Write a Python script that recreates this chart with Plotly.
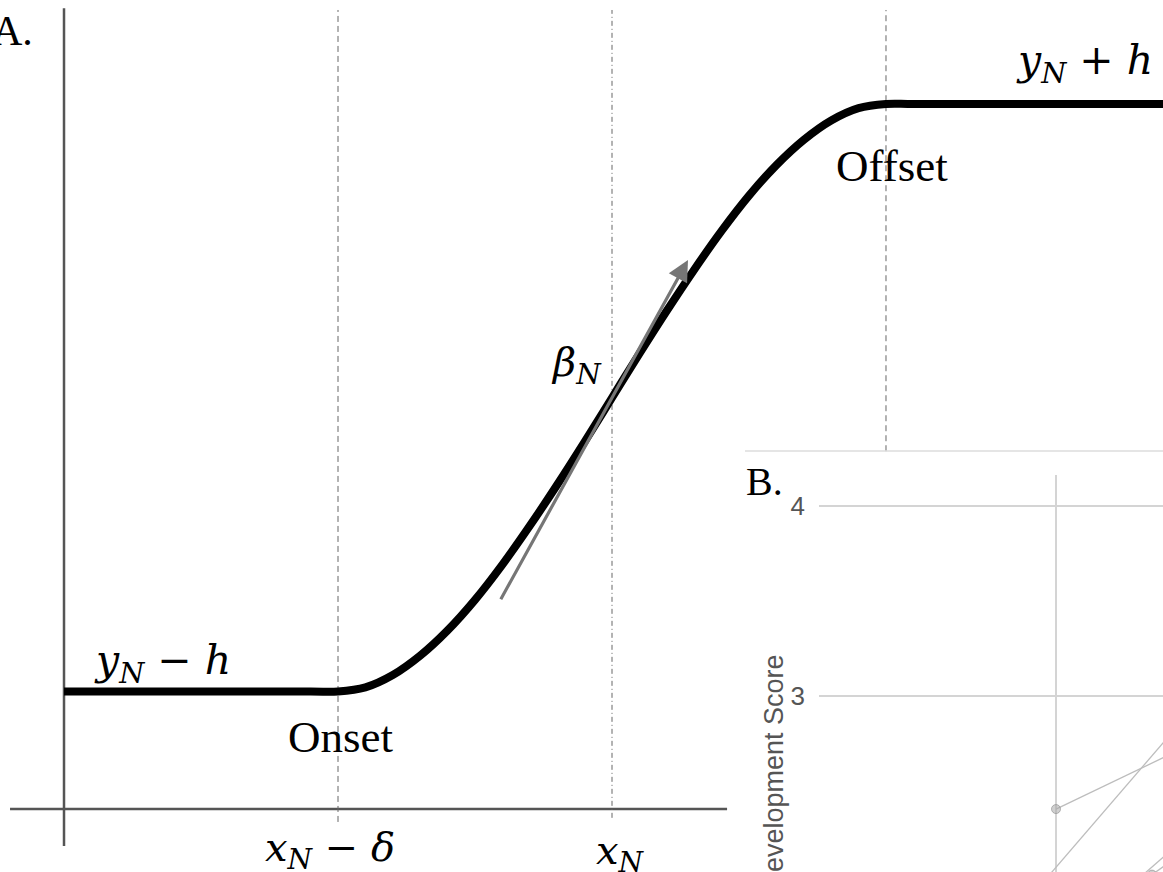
import plotly.graph_objects as go

# ---------------- Panel A: schematic growth curve ----------------
x_N = 10.0        # centre of the transition
delta = 5.0       # half-width of the transition
y_N = 7.0         # level at the centre
h = 5.0           # half of the total rise
beta_N = 1.69     # slope of the tangent drawn at the centre

onset = x_N - delta
offset = x_N + delta

curve_x = [0.0, 4.5, 5.0, 5.5, 6.0, 6.5, 7.0, 7.5, 8.0, 8.5, 9.0, 9.5, 10.0,
           10.5, 11.0, 11.5, 12.0, 12.5, 13.0, 13.5, 14.0, 14.5, 15.0, 15.5, 20.2]
curve_y = [2.0, 2.0, 2.0, 2.07, 2.28, 2.61, 3.04, 3.56, 4.16, 4.82, 5.52, 6.25, 7.0,
           7.75, 8.48, 9.18, 9.84, 10.44, 10.96, 11.39, 11.72, 11.93, 12.0, 12.0, 12.0]

# extent of the hand-drawn axes
axis_x_span = [-0.985, 12.1]
axis_y_span = [-0.63, 13.63]
guide_top = 13.6
guide_bottom = {"onset": -0.22, "centre": -0.15, "offset": 6.09}

# tangent arrow (from tail to head, along slope beta_N through the centre)
tangent_dx = [-2.044, 1.387]

# ---------------- Panel B: individual trajectories ----------------
b_yticks = [3, 4]
b_ytick_text = ["3", "4"]
b_xticks = [1]
traj_x = [[1.0, 2.0], [0.8, 2.0], [1.3, 2.0], [1.4, 2.0]]
traj_y = [[2.405, 3.01], [1.805, 3.566], [1.99, 2.76], [2.06, 2.59]]
b_ylabel = "Development Score"

W, H = 1163, 872
SERIF = "Liberation Serif, Times New Roman, serif"
MATH = "DejaVu Serif, serif"
SANS = "Liberation Sans, Arial, sans-serif"

fig = go.Figure()

# axes of panel A
fig.add_trace(go.Scatter(x=[0, 0], y=axis_y_span, mode="lines",
                         line=dict(color="#555555", width=2.5), hoverinfo="skip"))
fig.add_trace(go.Scatter(x=axis_x_span, y=[0, 0], mode="lines",
                         line=dict(color="#555555", width=2.5), hoverinfo="skip"))

# vertical guides at onset, centre and offset
for gx, key, dash in [(onset, "onset", "6px,4px"),
                      (x_N, "centre", "5px,3px,1px,3px"),
                      (offset, "offset", "6px,4px")]:
    fig.add_trace(go.Scatter(x=[gx, gx], y=[guide_bottom[key], guide_top], mode="lines",
                             line=dict(color="#666666", width=1, dash=dash),
                             hoverinfo="skip"))

# the growth curve
fig.add_trace(go.Scatter(x=curve_x, y=curve_y, mode="lines",
                         line=dict(color="black", width=8, shape="spline", smoothing=1.0),
                         hoverinfo="skip"))

# panel B trajectories
for tx, ty in zip(traj_x, traj_y):
    fig.add_trace(go.Scatter(x=tx, y=ty, xaxis="x2", yaxis="y2", mode="lines+markers",
                             line=dict(color="#bdbdbd", width=1.3),
                             marker=dict(size=9, color="rgba(170,170,170,0.55)",
                                         line=dict(color="rgba(140,140,140,0.6)", width=1)),
                             hoverinfo="skip"))

tail_x = x_N + tangent_dx[0]
head_x = x_N + tangent_dx[1]
tail_y = y_N + beta_N * tangent_dx[0]
head_y = y_N + beta_N * tangent_dx[1]

annotations = [
    dict(x=head_x, y=head_y, ax=tail_x, ay=tail_y, xref="x", yref="y", axref="x", ayref="y",
         text="", showarrow=True, arrowhead=2, arrowsize=1.3, arrowwidth=3.2,
         arrowcolor="#767676", standoff=0, startstandoff=0),
    dict(x=35 / W, y=1 - 31 / H, xref="paper", yref="paper", text="A.", showarrow=False,
         xanchor="right", yanchor="middle", font=dict(family=SERIF, size=42, color="black")),
    dict(x=764 / W, y=1 - 482 / H, xref="paper", yref="paper", text="B.", showarrow=False,
         xanchor="center", yanchor="middle", font=dict(family=SERIF, size=40, color="black")),
    dict(x=1.79, y=y_N - h + 0.49, xref="x", yref="y",
         text="<i>y</i><sub><i>N</i></sub> − <i>h</i>", showarrow=False,
         xanchor="center", yanchor="middle", font=dict(family=MATH, size=41, color="black")),
    dict(x=18.63, y=y_N + h + 0.70, xref="x", yref="y",
         text="<i>y</i><sub><i>N</i></sub> + <i>h</i>", showarrow=False,
         xanchor="center", yanchor="middle", font=dict(family=MATH, size=41, color="black")),
    dict(x=onset, y=1.23, xref="x", yref="y", xshift=2, text="Onset", showarrow=False,
         xanchor="center", yanchor="middle", font=dict(family=SERIF, size=45, color="black")),
    dict(x=offset, y=10.95, xref="x", yref="y", xshift=6, text="Offset", showarrow=False,
         xanchor="center", yanchor="middle", font=dict(family=SERIF, size=45, color="black")),
    dict(x=onset, y=-0.70, xref="x", yref="y", xshift=-8,
         text="<i>x</i><sub><i>N</i></sub> − <i>δ</i>", showarrow=False,
         xanchor="center", yanchor="middle", font=dict(family=MATH, size=40, color="black")),
    dict(x=x_N, y=-0.75, xref="x", yref="y", xshift=8,
         text="<i>x</i><sub><i>N</i></sub>", showarrow=False,
         xanchor="center", yanchor="middle", font=dict(family=MATH, size=40, color="black")),
    dict(x=x_N, y=7.56, xref="x", yref="y", xshift=-36,
         text="<i>β</i><sub><i>N</i></sub>", showarrow=False,
         xanchor="center", yanchor="middle", font=dict(family=MATH, size=40, color="black")),
    dict(x=773 / W, y=1 - 773.5 / H, xref="paper", yref="paper", text=b_ylabel,
         textangle=-90, showarrow=False, xanchor="center", yanchor="middle",
         font=dict(family=SANS, size=27, color="#555555")),
]

shapes = [
    dict(type="line", xref="paper", yref="paper", x0=745 / W, x1=1, y0=1 - 451 / H, y1=1 - 451 / H,
         line=dict(color="#dcdcdc", width=1.5)),
]

fig.update_layout(
    width=W, height=H,
    margin=dict(l=0, r=0, t=0, b=0),
    paper_bgcolor="white", plot_bgcolor="rgba(0,0,0,0)",
    showlegend=False,
    xaxis=dict(domain=[0, 1], range=[-1.168, 20.055], visible=False, fixedrange=True),
    yaxis=dict(domain=[0, 1], range=[-1.072, 13.77], visible=False, fixedrange=True),
    xaxis2=dict(domain=[819 / W, 1], range=[0.0125, 1.4458], anchor="y2",
                tickvals=b_xticks, showticklabels=False, showgrid=True,
                gridcolor="#d4d4d4", gridwidth=1.5, zeroline=False, showline=False),
    yaxis2=dict(domain=[0, (H - 475) / H], range=[2.0737, 4.163], anchor="x2",
                tickmode="array", tickvals=b_yticks, ticktext=b_ytick_text,
                showgrid=True, gridcolor="#d4d4d4", gridwidth=1.5,
                zeroline=False, showline=False, ticks="", ticklabelstandoff=13,
                tickfont=dict(family="Liberation Sans", size=26, color="#555555")),
    annotations=annotations,
    shapes=shapes,
)

fig.write_html("out.html")
